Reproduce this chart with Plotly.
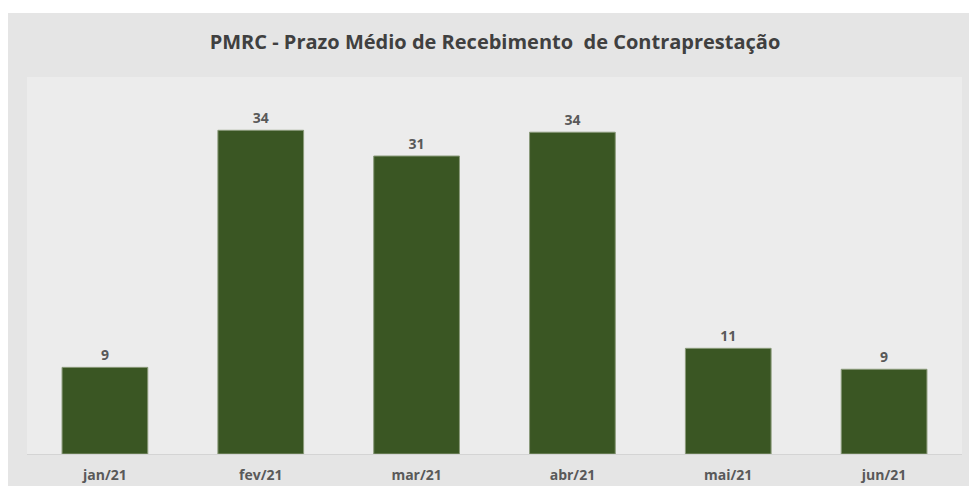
import plotly.graph_objects as go

categories = ["jan/21", "fev/21", "mar/21", "abr/21", "mai/21", "jun/21"]
values = [9.1, 34.0, 31.3, 33.8, 11.1, 8.9]
labels = ["9", "34", "31", "34", "11", "9"]

W, H = 969, 486
ml, mr, mt, mb = 27, 7, 77, 32
pw, ph = W - ml - mr, H - mt - mb
FONT = "Open Sans, sans-serif"

fig = go.Figure(go.Bar(
    x=categories, y=values, text=labels, textposition="outside",
    texttemplate="<b>%{text}</b>",
    marker=dict(color="#3a5623", line=dict(color="#8a9a7a", width=1)),
    textfont=dict(family=FONT, size=14, color="#595959"),
    cliponaxis=False,
))

fig.update_layout(
    width=W, height=H,
    margin=dict(l=ml, r=mr, t=mt, b=mb, autoexpand=False),
    paper_bgcolor="#e5e5e5", plot_bgcolor="#ececec",
    bargap=0.45,
    showlegend=False,
    title=dict(text="<b>PMRC - Prazo Médio de Recebimento  de Contraprestação</b>",
               x=495 / W, xanchor="center", y=1 - 42 / H, yanchor="middle",
               font=dict(family=FONT, size=20, color="#404040")),
    xaxis=dict(showline=True, linecolor="#d4d4d4", linewidth=1, ticks="",
               tickprefix="<b>", ticksuffix="</b>", ticklabelstandoff=8,
               tickfont=dict(family=FONT, size=14, color="#595959"),
               showgrid=False),
    yaxis=dict(range=[0, 39.6], visible=False, showgrid=False),
)

# white page margin strips at top and left (outside chart frame)
fig.add_shape(type="rect", xref="paper", yref="paper",
              x0=-ml / pw, x1=1 + mr / pw, y0=1 + (mt - 13) / ph, y1=1 + mt / ph,
              fillcolor="white", line=dict(width=0), layer="above")
fig.add_shape(type="rect", xref="paper", yref="paper",
              x0=-ml / pw, x1=-(ml - 8) / pw, y0=-mb / ph, y1=1 + mt / ph,
              fillcolor="white", line=dict(width=0), layer="above")

fig.write_html("out.html", config={"displayModeBar": False},
               post_script="document.body.style.margin='0';document.body.style.overflow='hidden';")
